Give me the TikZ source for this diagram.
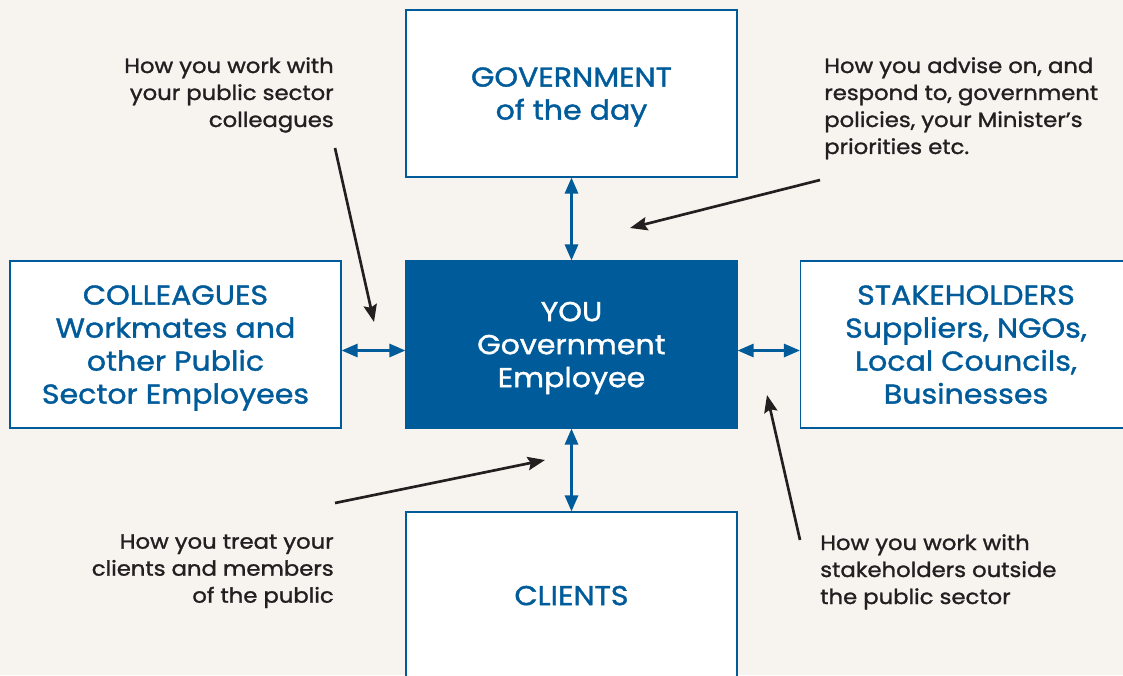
\documentclass[tikz,border=0pt]{standalone}
\usepackage{fontspec}
\setmainfont{Poppins}[FakeBold=1.3, FakeStretch=1.1]
\usetikzlibrary{arrows.meta}
\definecolor{azul}{HTML}{005B9A}
\definecolor{fondo}{HTML}{F7F3EE}
\definecolor{tinta}{HTML}{231F20}
\tikzset{
  caja/.style={draw=azul, line width=1pt, fill=white, text=azul, align=center,
    minimum width=248.25pt, minimum height=125.25pt, inner sep=0pt, text depth=0pt,
    font=\fontsize{20.5}{24.75}\selectfont},
  texto/.style={text=tinta, inner sep=0pt, font=\fontsize{15.5}{20.25}\selectfont},
  doble/.style={azul, line width=1.6pt, {Triangle[width=10pt,length=12pt]}-{Triangle[width=10pt,length=12pt]}},
  nota/.style={tinta, line width=2pt, -{Stealth[width=10pt,length=13pt,inset=2pt]}}
}
\begin{document}
\begin{tikzpicture}[x=0.75pt,y=-0.75pt]
    % Fondo y tamaño del dibujo
    \fill[fondo] (0,0) rectangle (1123,675);
    \useasboundingbox (0,0) rectangle (1123,675);
    % Cajas
    \node[caja] (gobierno) at (571.5,93.5) {GOVERNMENT\\of the day};
    \node[caja, fill=azul, text=white] (tu) at (571.5,344.5) {YOU\\Government\\Employee};
    \node[caja] (colegas) at (175.5,344.5) {COLLEAGUES\\Workmates and\\other Public\\Sector Employees};
    \node[caja] (actores) at (966,344.5) {STAKEHOLDERS\\Suppliers, NGOs,\\Local Councils,\\Businesses};
    \node[caja] (clientes) at (571.5,595.5) {CLIENTS};
    % Flechas azules
    \draw[doble] (gobierno) -- (tu);
    \draw[doble] (tu) -- (clientes);
    \draw[doble] ([yshift=-4.5pt]colegas.east) -- ([yshift=-4.5pt]tu.west);
    \draw[doble] ([yshift=-4.5pt]tu.east) -- ([yshift=-4.5pt]actores.west);
    % Textos
    \node[texto, anchor=north east, align=right] (nota1) at (334,57) {How you work with\\your public sector\\colleagues};
    \node[texto, anchor=north west, align=left] (nota2) at (824,57) {How you advise on, and\\respond to, government\\policies, your Minister’s\\priorities etc.};
    \node[texto, anchor=north east, align=right] (nota3) at (334,534) {How you treat your\\clients and members\\of the public};
    \node[texto, anchor=north west, align=left] (nota4) at (820,534) {How you work with\\stakeholders outside\\the public sector};
    % Flechas negras
    \coordinate (a1) at (335,148);
    \coordinate (b1) at (374,322);
    \coordinate (a2) at (820,180);
    \coordinate (b2) at (630,228);
    \coordinate (a3) at (335,503);
    \coordinate (b3) at (545,460);
    \coordinate (a4) at (800,540);
    \coordinate (b4) at (767,395);
    \draw[nota] (a1) -- (b1);
    \draw[nota] (a2) -- (b2);
    \draw[nota] (a3) -- (b3);
    \draw[nota] (a4) -- (b4);
\end{tikzpicture}
\end{document}
